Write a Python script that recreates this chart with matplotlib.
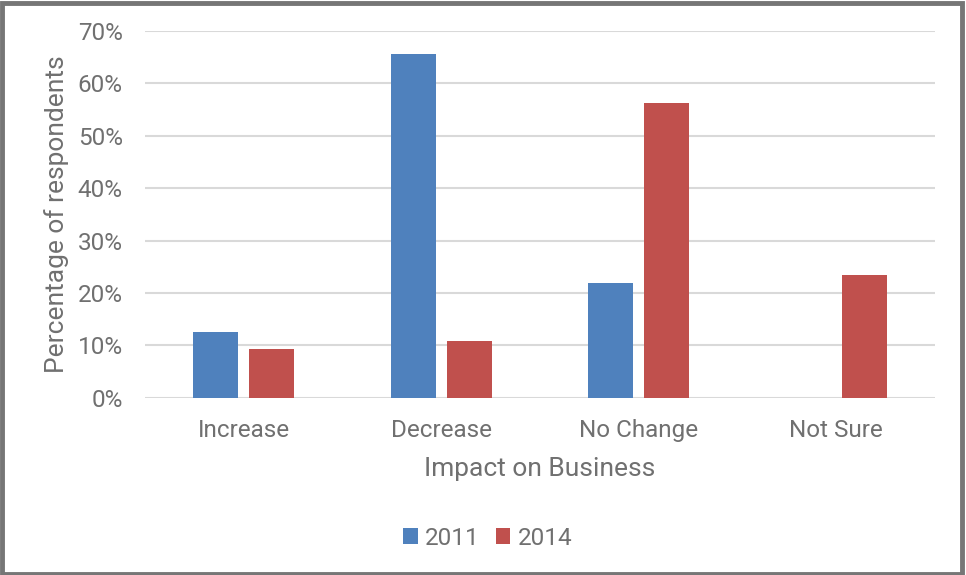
import numpy as np
import matplotlib
matplotlib.use('Agg')
import matplotlib.pyplot as plt
from matplotlib.patches import Rectangle

categories = ['Increase', 'Decrease', 'No Change', 'Not Sure']
years = ['2011', '2014']
pct_2011 = [12.5, 65.6, 21.9, 0.0]
pct_2014 = [9.4, 10.9, 56.3, 23.4]
colors = ['#4F81BD', '#C0504D']

plt.rcParams['font.family'] = ['Roboto', 'DejaVu Sans']
txt = '#707070'

fig = plt.figure(figsize=(9.66, 5.75), dpi=100)
ax = fig.add_axes([0.150, 0.308, 0.818, 0.638])

x = np.arange(len(categories))
w = 0.228
off = 0.142
ax.bar(x - off, pct_2011, w, color=colors[0], label=years[0], zorder=3)
ax.bar(x + off, pct_2014, w, color=colors[1], label=years[1], zorder=3)

ax.set_xlim(-0.5, len(categories) - 0.5)
ax.set_ylim(0, 70)
ax.set_yticks(np.arange(0, 71, 10))
ax.set_yticklabels([f'{v}%' for v in range(0, 71, 10)])
ax.set_xticks(x)
ax.set_xticklabels(categories)
ax.grid(axis='y', color='#D9D9D9', linewidth=1.5, zorder=0)
for s in ax.spines.values():
    s.set_visible(False)
ax.tick_params(length=0, labelsize=17.5, colors=txt)
ax.tick_params(axis='y', pad=16)
ax.tick_params(axis='x', pad=15)
ax.set_xlabel('Impact on Business', fontsize=19, color=txt, labelpad=11)
ax.set_ylabel('Percentage of respondents', fontsize=19, color=txt, labelpad=6)

ax.legend(loc='center', bbox_to_anchor=(0.505, 0.064), bbox_transform=fig.transFigure,
          ncol=2, frameon=False, fontsize=17.5, labelcolor=txt,
          handlelength=0.6, handleheight=0.6, handletextpad=0.3, columnspacing=0.65)

# grey frame around the whole figure
fig.patches.append(Rectangle((0.002, 0.001), 0.994, 0.994, transform=fig.transFigure,
                             fill=False, edgecolor='#767676', linewidth=3.5))

fig.savefig('out.png', dpi=100, facecolor='white')
